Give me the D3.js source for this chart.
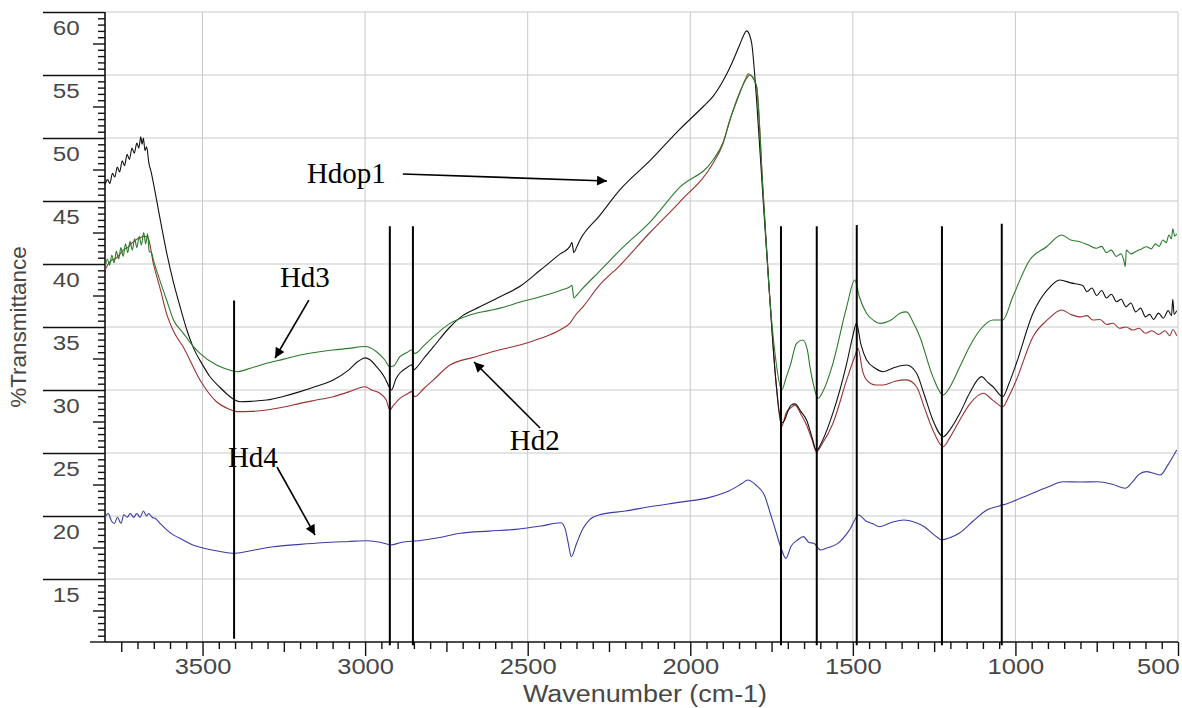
<!DOCTYPE html>
<html>
<head>
<meta charset="utf-8">
<script src="https://cdn.jsdelivr.net/npm/d3@7"></script>
<style>
  body { margin: 0; background: #fff; }
  svg { display: block; }
</style>
</head>
<body>
<svg id="chart" width="1182" height="708"></svg>
<script>
// ── data: [wavenumber, %T] ───────────────────────────────────────────
const hdop1 = [
  [3800,46.3],[3792,46.7],[3785,46.4],[3777,47.2],[3770,46.9],[3762,47.7],[3755,47.3],[3747,48.2],
  [3740,47.8],[3732,48.7],[3725,48.3],[3717,49.2],[3710,48.8],[3702,49.6],[3696,49.2],[3690,50.1],
  [3686,49.5],[3682,50.0],[3677,49.0],[3672,49.3],[3665,48.0],[3658,47.3],[3651,46.4],[3630,43.5],
  [3610,40.85],[3590,38.6],[3569,36.6],[3550,34.9],[3529,33.4],[3500,32.0],[3477,31.05],[3450,30.3],
  [3426,29.7],[3400,29.2],[3385,29.07],[3350,29.1],[3303,29.2],[3250,29.5],[3200,29.87],[3150,30.3],
  [3098,30.8],[3050,31.6],[3020,32.3],[3000,32.55],[2985,32.4],[2965,31.85],[2940,31.0],[2925,30.2],
  [2919,30.0],[2905,30.9],[2893,31.35],[2870,31.8],[2857,32.0],[2850,31.6],[2845,31.7],[2820,32.5],
  [2791,33.4],[2739,35.0],[2700,35.9],[2647,36.6],[2585,37.4],[2520,38.3],[2462,39.5],[2400,40.8],
  [2370,41.4],[2364,41.7],[2358,40.9],[2350,41.3],[2339,41.9],[2280,43.8],[2216,45.9],[2124,48.2],
  [2032,50.7],[1960,52.5],[1930,53.3],[1900,54.5],[1878,55.6],[1848,57.4],[1835,58.2],[1827,58.5],
  [1818,58.2],[1811,57.5],[1796,53.0],[1776,45.1],[1755,37.1],[1737,30.8],[1719,27.4],[1710,27.6],
  [1700,28.3],[1690,28.8],[1678,28.9],[1660,28.3],[1642,27.6],[1625,26.2],[1612,25.2],[1595,25.9],
  [1561,28.2],[1519,32.1],[1500,34.3],[1489,35.3],[1475,33.6],[1458,32.4],[1430,31.7],[1407,31.45],
  [1370,31.8],[1335,31.98],[1304,31.33],[1280,29.6],[1254,27.62],[1222,26.29],[1200,26.9],[1171,28.15],
  [1140,29.8],[1104,31.06],[1085,30.6],[1069,30.26],[1039,29.47],[1020,30.5],[997,32.12],[946,36.09],
  [900,38.0],[863,38.73],[830,38.5],[793,38.3],[780,37.8],[765,38.1],[750,37.5],[735,37.9],
  [720,37.3],[705,37.6],[689,37.0],[675,37.2],[660,36.6],[645,36.9],[630,36.2],[615,36.5],
  [600,35.8],[587,36.0],[575,35.6],[560,36.1],[545,35.7],[530,36.3],[520,35.9],[516,37.2],
  [512,36.0],[504,36.3]
];

const hd3 = [
  [3800,39.6],[3793,40.4],[3786,39.9],[3779,40.7],[3772,40.1],[3765,41.0],[3758,40.4],[3751,41.3],
  [3744,40.6],[3737,41.6],[3730,40.9],[3723,41.8],[3716,41.1],[3709,42.0],[3702,41.3],[3695,42.2],
  [3688,41.5],[3681,42.5],[3675,41.6],[3669,42.4],[3664,41.0],[3657,40.9],[3651,40.3],[3630,38.6],
  [3610,37.1],[3590,35.6],[3559,34.5],[3530,33.5],[3508,32.9],[3457,31.98],[3420,31.6],[3395,31.45],
  [3350,31.75],[3303,32.12],[3250,32.45],[3200,32.78],[3150,33.0],[3098,33.17],[3050,33.3],[3000,33.45],
  [2965,33.04],[2940,32.4],[2924,31.85],[2913,31.9],[2893,32.64],[2870,33.0],[2857,33.17],[2847,32.9],
  [2820,33.5],[2790,34.23],[2739,35.29],[2678,35.95],[2620,36.3],[2585,36.5],[2520,37.0],[2462,37.4],
  [2400,37.9],[2370,38.2],[2364,38.3],[2358,37.3],[2350,37.5],[2333,38.0],[2280,39.4],[2216,41.1],
  [2124,43.33],[2032,46.1],[1930,48.25],[1900,49.6],[1878,51.43],[1850,53.4],[1830,54.7],[1822,55.1],
  [1810,54.9],[1796,54.07],[1777,46.13],[1755,37.14],[1737,32.4],[1719,30.0],[1705,31.0],[1692,32.0],
  [1673,33.7],[1654,33.97],[1640,33.2],[1632,31.85],[1620,30.3],[1607,29.34],[1590,30.0],[1561,32.14],
  [1519,36.6],[1494,38.73],[1480,37.4],[1458,36.09],[1435,35.5],[1417,35.29],[1380,35.6],[1355,36.09],
  [1335,36.2],[1315,35.4],[1294,34.23],[1254,31.06],[1222,29.6],[1200,30.3],[1171,31.85],[1140,33.5],
  [1109,34.76],[1069,35.56],[1039,35.56],[1008,37.4],[956,40.32],[904,41.37],[858,42.3],[830,41.9],
  [802,41.77],[775,41.5],[751,41.25],[735,41.4],[720,40.9],[705,41.1],[690,40.6],[675,40.8],
  [667,40.32],[662,39.8],[659,41.1],[645,40.8],[630,41.0],[612,41.2],[597,41.37],[582,41.2],
  [570,41.6],[558,41.4],[547,41.9],[536,41.7],[528,42.3],[520,42.0],[516,42.8],[510,42.2],[504,42.4]
];

const hd2 = [
  [3800,39.5],[3790,40.0],[3780,40.3],[3770,40.4],[3760,40.6],[3750,40.9],[3740,41.2],[3730,41.3],
  [3720,41.6],[3710,41.8],[3700,42.0],[3690,42.1],[3680,42.2],[3668,42.1],[3651,40.0],[3630,38.0],
  [3610,36.0],[3590,34.7],[3559,33.4],[3508,30.8],[3457,29.07],[3420,28.5],[3395,28.28],[3350,28.3],
  [3303,28.41],[3250,28.65],[3200,28.94],[3150,29.2],[3098,29.47],[3050,29.85],[3000,30.26],[2980,30.0],
  [2955,29.74],[2935,29.2],[2924,28.41],[2915,28.7],[2893,29.34],[2870,29.7],[2857,29.87],[2847,29.47],
  [2820,30.1],[2790,30.8],[2739,31.98],[2665,32.6],[2600,33.1],[2524,33.57],[2460,34.1],[2401,34.76],
  [2370,35.3],[2355,35.87],[2330,36.6],[2280,38.3],[2216,39.9],[2124,42.5],[2032,44.94],[1930,48.0],
  [1900,49.5],[1878,51.43],[1850,53.5],[1825,54.8],[1817,55.0],[1808,54.8],[1796,54.07],[1777,46.13],
  [1755,37.14],[1737,30.8],[1719,27.1],[1705,28.2],[1690,28.6],[1678,28.8],[1660,28.1],[1642,27.2],
  [1625,26.0],[1612,25.1],[1595,25.7],[1561,27.36],[1519,30.8],[1495,32.6],[1484,33.3],[1470,31.5],
  [1458,30.8],[1430,30.4],[1407,30.4],[1370,30.7],[1335,30.8],[1304,30.26],[1280,28.6],[1254,26.83],
  [1222,25.5],[1200,26.3],[1171,27.62],[1140,28.9],[1099,29.74],[1070,29.2],[1039,28.67],[1020,29.5],
  [997,30.8],[946,34.23],[900,35.6],[858,36.35],[830,36.0],[800,35.8],[780,35.9],[762,35.56],
  [740,35.6],[720,35.2],[700,35.3],[680,34.9],[660,35.0],[639,34.76],[620,34.9],[600,34.5],
  [580,34.7],[560,34.4],[540,34.7],[525,34.3],[516,34.8],[504,34.3]
];

const hd4 = [
  [3800,19.9],[3790,20.2],[3780,19.6],[3771,19.4],[3762,19.9],[3751,19.42],[3742,20.1],[3732,19.9],
  [3722,20.2],[3712,19.9],[3702,20.2],[3692,19.9],[3682,20.4],[3672,20.0],[3666,20.2],[3655,19.9],
  [3645,19.8],[3630,19.4],[3610,18.9],[3590,18.5],[3560,18.1],[3530,17.7],[3496,17.44],[3450,17.2],
  [3400,17.04],[3340,17.3],[3282,17.56],[3200,17.75],[3133,17.88],[3050,17.98],[2995,18.04],[2950,17.9],
  [2921,17.7],[2890,17.9],[2835,18.04],[2770,18.3],[2707,18.63],[2620,18.8],[2537,18.94],[2460,19.2],
  [2398,19.47],[2385,19.0],[2375,17.8],[2366,16.77],[2350,17.8],[2330,19.0],[2310,19.7],[2281,20.08],
  [2200,20.4],[2111,20.79],[2030,21.1],[1940,21.48],[1880,22.0],[1840,22.6],[1823,22.86],[1800,22.5],
  [1770,21.53],[1755,20.3],[1738,18.89],[1720,17.4],[1706,16.64],[1690,17.6],[1670,18.1],[1652,18.36],
  [1635,17.9],[1620,17.83],[1599,17.3],[1575,17.5],[1546,17.83],[1510,18.9],[1482,20.08],[1460,19.6],
  [1440,19.4],[1418,19.15],[1380,19.5],[1343,19.68],[1310,19.5],[1280,19.15],[1250,18.5],[1226,18.1],
  [1200,18.3],[1173,18.63],[1130,19.6],[1088,20.48],[1050,20.8],[1024,21.0],[960,21.67],[900,22.3],
  [853,22.72],[800,22.7],[747,22.72],[700,22.5],[662,22.2],[640,22.7],[620,23.3],[598,23.52],
  [575,23.4],[555,23.25],[530,24.1],[504,25.24]
];

const seriesNames  = ['Hd2', 'Hd4', 'Hdop1', 'Hd3'];
const seriesData   = [hd2, hd4, hdop1, hd3];
const seriesColors = ['#9a3232', '#3c3ca4', '#111111', '#2b7a2b'];

const xMajorTicks = [3500, 3000, 2500, 2000, 1500, 1000, 500];
const yMajorTicks = [15, 20, 25, 30, 35, 40, 45, 50, 55, 60];

// band markers: wavenumber and top of the vertical line (%T)
const bandWavenumbers = [3403, 2924, 2853, 1721, 1611, 1488, 1226, 1042];
const bandTops        = [37.1, 43.0, 43.0, 43.0, 43.0, 43.1, 43.0, 43.2];

// annotation labels + arrows (in data coords)
const labelNames = ['Hdop1', 'Hd3', 'Hd2', 'Hd4'];
const labelAt    = [[3179, 46.43], [3262, 38.17], [2555, 25.24], [3422, 23.89]];
const arrowFrom  = [[2884, 47.14], [3173, 37.14], [2462, 26.98], [3271, 23.89]];
const arrowTo    = [[2256, 46.59], [3277, 32.54], [2665, 32.22], [3154, 18.49]];

// ── layout ───────────────────────────────────────────────────────────
const W = 1182, H = 708;
const margin = { top: 12, right: 4, bottom: 66, left: 105 };
const svg = d3.select('#chart');

const x = d3.scaleLinear().domain([3800, 500]).range([margin.left, W - margin.right]);
const y = d3.scaleLinear().domain([10, 60]).range([H - margin.bottom, margin.top]);

const sans = '"Liberation Sans", Arial, sans-serif';
const serif = '"Liberation Serif", "Times New Roman", serif';
const labelGrey = '#474747';

// 1) grid
const grid = svg.append('g').attr('stroke', '#c9c9c9').attr('stroke-width', 1);
grid.selectAll('line.vg')
  .data(xMajorTicks)
  .enter().append('line')
  .attr('x1', d => x(d)).attr('x2', d => x(d))
  .attr('y1', y(10)).attr('y2', y(60));
grid.selectAll('line.hg')
  .data(yMajorTicks)
  .enter().append('line')
  .attr('x1', x(3800)).attr('x2', x(500))
  .attr('y1', d => y(d)).attr('y2', d => y(d));

// 2) x axis (major / mid / minor ticks)
const xAxisG = svg.append('g').attr('transform', `translate(0,${y(10)})`);
const xMid = d3.range(3750, 500, -250).filter(v => v % 500 !== 0);
const xMinor = d3.range(3750, 500, -50).filter(v => v % 250 !== 0);

xAxisG.append('g')
  .call(d3.axisBottom(x).tickValues(xMinor).tickSize(7).tickFormat(''))
  .call(g => g.select('.domain').remove());
xAxisG.append('g')
  .call(d3.axisBottom(x).tickValues(xMid).tickSize(10).tickFormat(''))
  .call(g => g.select('.domain').remove());
xAxisG.append('g')
  .call(d3.axisBottom(x).tickValues(xMajorTicks).tickSize(14).tickFormat(d3.format('d')))
  .call(g => g.select('.domain').attr('d', `M${x(3800)},0H${x(500)}`))
  .call(g => g.selectAll('text')
    .attr('font-family', sans).attr('font-size', 22).attr('fill', labelGrey)
    .attr('dy', '0.71em').attr('y', 16)
    .attr('transform', 'scale(1.16,1)'))
  // last label sits against the right edge
  .call(g => g.selectAll('text').filter(d => d === 500)
    .attr('text-anchor', 'end').attr('x', 1));
xAxisG.selectAll('line').attr('stroke', '#111').attr('stroke-width', 1.4);
xAxisG.selectAll('.domain').attr('stroke', '#111').attr('stroke-width', 1.6);

// 3) y axis
const yAxisG = svg.append('g').attr('transform', `translate(${x(3800)},0)`);
const yMid = d3.range(12.5, 60, 5);
const yMinor = d3.range(10.5, 60, 0.5).filter(v => Math.abs((v * 2) % 5) > 1e-6);

yAxisG.append('g')
  .call(d3.axisLeft(y).tickValues(yMinor).tickSize(7).tickFormat(''))
  .call(g => g.select('.domain').remove());
yAxisG.append('g')
  .call(d3.axisLeft(y).tickValues(yMid).tickSize(12).tickFormat(''))
  .call(g => g.select('.domain').remove());
yAxisG.append('g')
  .call(d3.axisLeft(y).tickValues(yMajorTicks).tickSize(62).tickFormat(d3.format('d')))
  .call(g => g.select('.domain').attr('d', `M0,${y(10)}V${y(60)}`))
  .call(g => g.selectAll('text')
    .attr('font-family', sans).attr('font-size', 21).attr('fill', labelGrey)
    .attr('text-anchor', 'end').attr('x', -22).attr('dy', '1.05em')
    .attr('transform', 'scale(1.15,1)'));
yAxisG.append('line')
  .attr('x1', -15).attr('x2', 0).attr('y1', y(10)).attr('y2', y(10));
yAxisG.selectAll('line').attr('stroke', '#111').attr('stroke-width', 1.4);
yAxisG.selectAll('.domain').attr('stroke', '#111').attr('stroke-width', 1.6);

// axis titles
svg.append('text')
  .attr('transform', 'translate(645,702) scale(1.17,1)')
  .attr('text-anchor', 'middle')
  .attr('font-family', sans).attr('font-size', 23).attr('fill', labelGrey)
  .text('Wavenumber (cm-1)');
svg.append('text')
  .attr('transform', `translate(26,${y(35)}) rotate(-90)`)
  .attr('text-anchor', 'middle')
  .attr('font-family', sans).attr('font-size', 22.5).attr('fill', labelGrey)
  .text('%Transmittance');

// 4) spectra
const line = d3.line()
  .x(d => x(d[0]))
  .y(d => y(d[1]))
  .curve(d3.curveMonotoneX);

svg.append('g')
  .selectAll('path.spectrum')
  .data(seriesData)
  .enter().append('path')
  .attr('class', 'spectrum')
  .attr('fill', 'none')
  .attr('stroke', (d, i) => seriesColors[i])
  .attr('stroke-width', 1.1)
  .attr('stroke-linejoin', 'round')
  .attr('d', line);

// 5) band marker lines
svg.append('g')
  .selectAll('line.band')
  .data(bandWavenumbers)
  .enter().append('line')
  .attr('class', 'band')
  .attr('x1', d => x(d)).attr('x2', d => x(d))
  .attr('y1', (d, i) => y(bandTops[i]))
  .attr('y2', (d, i) => i === 0 ? y(10.25) : y(9.75))
  .attr('stroke', '#000')
  .attr('stroke-width', 2);

// 6) annotations
svg.append('defs').append('marker')
  .attr('id', 'arrow')
  .attr('viewBox', '0 0 10 10')
  .attr('refX', 10).attr('refY', 5)
  .attr('markerWidth', 14).attr('markerHeight', 10)
  .attr('markerUnits', 'userSpaceOnUse')
  .attr('orient', 'auto')
  .append('path')
  .attr('d', 'M0,0L10,5L0,10Z')
  .attr('fill', '#000');

const notes = svg.append('g');
notes.selectAll('line.arrow')
  .data(labelNames)
  .enter().append('line')
  .attr('class', 'arrow')
  .attr('x1', (d, i) => x(arrowFrom[i][0])).attr('y1', (d, i) => y(arrowFrom[i][1]))
  .attr('x2', (d, i) => x(arrowTo[i][0])).attr('y2', (d, i) => y(arrowTo[i][1]))
  .attr('stroke', '#000').attr('stroke-width', 1.6)
  .attr('marker-end', 'url(#arrow)');

notes.selectAll('text.note')
  .data(labelNames)
  .enter().append('text')
  .attr('class', 'note')
  .attr('x', (d, i) => x(labelAt[i][0]))
  .attr('y', (d, i) => y(labelAt[i][1]))
  .attr('font-family', serif)
  .attr('font-size', 29)
  .attr('fill', '#000')
  .text(d => d);
</script>
</body>
</html>
